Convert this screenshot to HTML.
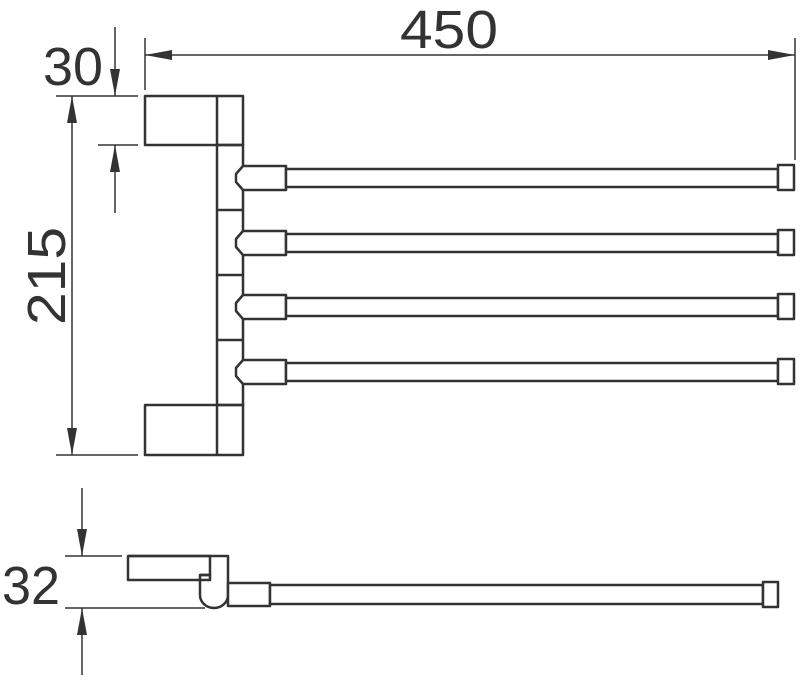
<!DOCTYPE html>
<html><head><style>body{margin:0;background:#fff}svg{display:block}</style></head><body>
<svg width="800" height="685" viewBox="0 0 800 685" xmlns="http://www.w3.org/2000/svg">
<defs>
<marker id="a" markerWidth="28" markerHeight="12" refX="27" refY="5" orient="auto" markerUnits="userSpaceOnUse"><path d="M0,0 L27,5 L0,10 Z" fill="#333"/></marker>
</defs>
<g stroke="#333" stroke-width="1.5" fill="none">
<line x1="145" y1="38" x2="145" y2="90"/>
<line x1="795" y1="38" x2="795" y2="160"/>
<line x1="450" y1="55" x2="145" y2="55" marker-end="url(#a)"/>
<line x1="450" y1="55" x2="795" y2="55" marker-end="url(#a)"/>
<line x1="56" y1="96" x2="138" y2="96"/>
<line x1="98" y1="145" x2="138" y2="145"/>
<line x1="115" y1="27" x2="115" y2="96" marker-end="url(#a)"/>
<line x1="115" y1="213" x2="115" y2="145" marker-end="url(#a)"/>
<line x1="56" y1="455" x2="138" y2="455"/>
<line x1="72" y1="275" x2="72" y2="96" marker-end="url(#a)"/>
<line x1="72" y1="275" x2="72" y2="455" marker-end="url(#a)"/>
<line x1="65" y1="556" x2="122" y2="556"/>
<line x1="65" y1="608" x2="205" y2="608"/>
<line x1="82" y1="488" x2="82" y2="556" marker-end="url(#a)"/>
<line x1="82" y1="675" x2="82" y2="608" marker-end="url(#a)"/>
</g>
<g stroke="#333" stroke-width="2.5" fill="none" stroke-linejoin="round">
<rect x="145" y="96" width="98" height="49"/>
<line x1="217" y1="96" x2="217" y2="145"/>
<rect x="145" y="405" width="98" height="50"/>
<line x1="217" y1="405" x2="217" y2="455"/>
<rect x="217" y="145" width="26" height="260"/>
<line x1="217" y1="210" x2="243" y2="210"/>
<line x1="217" y1="275" x2="243" y2="275"/>
<line x1="217" y1="340" x2="243" y2="340"/>
</g>
<g stroke="#333" stroke-width="2.5" fill="#fff" stroke-linejoin="round">
<g id="arm">
<path d="M243,166 L286,166 L286,190 L243,190 L236,182 L236,174 Z"/>
<rect x="286" y="169" width="492" height="18"/>
<rect x="778" y="165" width="16" height="25"/>
</g>
<use href="#arm" y="65"/>
<use href="#arm" y="129"/>
<use href="#arm" y="194"/>
<path d="M128,556 L228,556 L228,595 A14,13 0 0 1 200,595 L200,575 L210,575 L210,580 L128,580 Z"/>
<path d="M128,556 L210,556 L210,575 L200,575" fill="none"/>
<rect x="228" y="583" width="42" height="23"/>
<rect x="270" y="585" width="493" height="19"/>
<rect x="763" y="582" width="15" height="25"/>
</g>
<g font-family="Liberation Sans, sans-serif" fill="#333" font-size="54">
<text x="400" y="48" textLength="98" lengthAdjust="spacingAndGlyphs">450</text>
<text x="43" y="85" textLength="60" lengthAdjust="spacingAndGlyphs">30</text>
<text x="2" y="604" textLength="58" lengthAdjust="spacingAndGlyphs">32</text>
<text transform="translate(65,325) rotate(-90)" textLength="98" lengthAdjust="spacingAndGlyphs">215</text>
</g>
</svg>
</body></html>
